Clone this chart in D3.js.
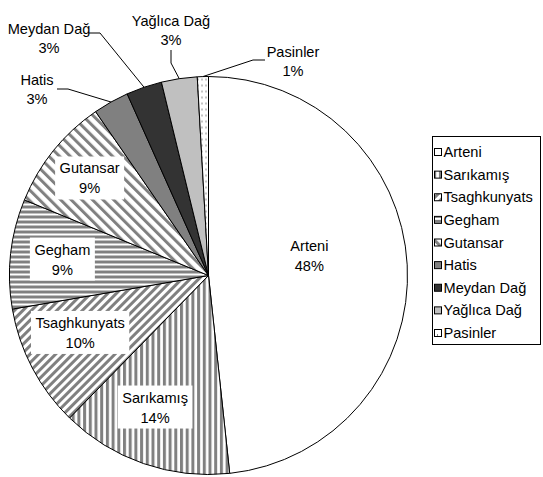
<!DOCTYPE html>
<html lang="en">
<head>
<meta charset="utf-8">
<title>Obsidian sources</title>
<script src="https://d3js.org/d3.v7.min.js"></script>
<style>
  body { margin: 0; background: #fff; }
  text { font-family: "Liberation Sans", Arial, sans-serif; font-size: 14.6px; fill: #000; }
  .slice { stroke: #000; stroke-width: 1px; }
  .leader { fill: none; stroke: #000; stroke-width: 1px; }
</style>
</head>
<body>
<div id="chart"></div>
<script>
var sources = ["Arteni", "Sarıkamış", "Tsaghkunyats", "Gegham", "Gutansar", "Hatis", "Meydan Dağ", "Yağlıca Dağ", "Pasinler"];
var shares  = [48.3, 14.0, 10.0, 8.9, 9.2, 2.9, 2.9, 2.9, 0.9];
var fills   = ["#fff", "url(#vert)", "url(#up)", "url(#horiz)", "url(#down)", "#808080", "#333333", "#c0c0c0", "url(#dots)"];

var width = 543, height = 477;
var cx = 208.5, cy = 275.5, r = 199;

// label placement (layout only)
var inside = {
  "Arteni":       { rad: 100, dx: 1,  dy: -14 },
  "Sarıkamış":    { rad: 145, dx: -6, dy: -5 },
  "Tsaghkunyats": { rad: 145, dx: 0,  dy: -10 },
  "Gegham":       { rad: 145, dx: -2, dy: 0 },
  "Gutansar":     { rad: 145, dx: -6, dy: -6 }
};
var outside = {
  "Hatis":       { x: 37,  y: 80, line: [[57, 89], [68, 89]] },
  "Meydan Dağ":  { x: 49,  y: 29, line: [[89, 33], [100, 33]] },
  "Yağlıca Dağ": { x: 171, y: 21, line: [[171, 50], [171, 63]] },
  "Pasinler":    { x: 293, y: 52, line: [[265, 60], [253, 60]] }
};

var svg = d3.select("#chart").append("svg")
    .attr("width", width)
    .attr("height", height);

var defs = svg.append("defs");
function stripes(id, size, band, angle, horizontal) {
  var p = defs.append("pattern")
      .attr("id", id)
      .attr("patternUnits", "userSpaceOnUse")
      .attr("width", size).attr("height", size);
  if (angle) p.attr("patternTransform", "rotate(" + angle + ")");
  p.append("rect").attr("width", size).attr("height", size).attr("fill", "#fff");
  if (horizontal) p.append("rect").attr("width", size).attr("height", band).attr("fill", "#808080");
  else p.append("rect").attr("width", band).attr("height", size).attr("fill", "#808080");
}
stripes("vert", 5.7, 3, 0, false);
stripes("horiz", 5, 3, 0, true);
stripes("up", 6, 3, 45, false);
stripes("down", 7.5, 3, -45, false);

var dots = defs.append("pattern")
    .attr("id", "dots")
    .attr("patternUnits", "userSpaceOnUse")
    .attr("width", 4).attr("height", 6);
dots.append("rect").attr("width", 4).attr("height", 6).attr("fill", "#fff");
dots.append("rect").attr("x", 1).attr("y", 1).attr("width", 1).attr("height", 2).attr("fill", "#888");

var color = d3.scaleOrdinal().domain(sources).range(fills);

var data = sources.map(function(s, i) { return { name: s, value: shares[i] }; });
var total = d3.sum(shares);

var pie = d3.pie().sort(null).value(function(d) { return d.value; });
var arc = d3.arc().innerRadius(0).outerRadius(r);
var arcs = pie(data);

var g = svg.append("g").attr("transform", "translate(" + cx + "," + cy + ")");

g.selectAll("path.slice")
  .data(arcs)
  .enter().append("path")
  .attr("class", "slice")
  .attr("d", arc)
  .attr("fill", function(d) { return color(d.data.name); });

function polar(a, rad) { return [rad * Math.sin(a), -rad * Math.cos(a)]; }
function pct(d) { return Math.round(d.data.value / total * 100) + "%"; }

// inside labels
arcs.filter(function(d) { return inside[d.data.name]; }).forEach(function(d) {
  var L = inside[d.data.name];
  var p = polar((d.startAngle + d.endAngle) / 2, L.rad);
  var x = p[0] + L.dx, y = p[1] + L.dy;
  var lg = g.append("g").attr("transform", "translate(" + x + "," + y + ")");
  var t1 = lg.append("text").attr("text-anchor", "middle").attr("y", -5).text(d.data.name);
  lg.append("text").attr("text-anchor", "middle").attr("y", 15).text(pct(d));
  if (d.data.name !== "Arteni") {
    var w = t1.node().getComputedTextLength() + 9;
    lg.insert("rect", "text")
      .attr("x", -w / 2).attr("y", -22)
      .attr("width", w).attr("height", 43)
      .attr("fill", "#fff");
  }
});

// outside labels with leader lines
arcs.filter(function(d) { return outside[d.data.name]; }).forEach(function(d) {
  var L = outside[d.data.name];
  var p = polar((d.startAngle + d.endAngle) / 2, r);
  var pts = L.line.map(function(q) { return [q[0] - cx, q[1] - cy]; }).concat([p]);
  g.append("path").attr("class", "leader").attr("d", d3.line()(pts));
  svg.append("text").attr("text-anchor", "middle").attr("x", L.x).attr("y", L.y + 5).text(d.data.name);
  svg.append("text").attr("text-anchor", "middle").attr("x", L.x).attr("y", L.y + 24).text(pct(d));
});

// legend
var leg = svg.append("g");
leg.append("rect")
  .attr("x", 432.5).attr("y", 136.5)
  .attr("width", 108).attr("height", 208)
  .attr("fill", "#fff").attr("stroke", "#000");

var ly = d3.scalePoint().domain(sources).range([152, 333]);
var item = leg.selectAll("g.item").data(sources).enter().append("g")
  .attr("class", "item")
  .attr("transform", function(s) { return "translate(0," + ly(s) + ")"; });
item.append("rect")
  .attr("x", 434.5).attr("y", -3.5)
  .attr("width", 7).attr("height", 7)
  .attr("fill", function(s) { return color(s); })
  .attr("stroke", "#000");
item.append("text")
  .attr("x", 443.5).attr("y", 5)
  .text(function(s) { return s; });
</script>
</body>
</html>
